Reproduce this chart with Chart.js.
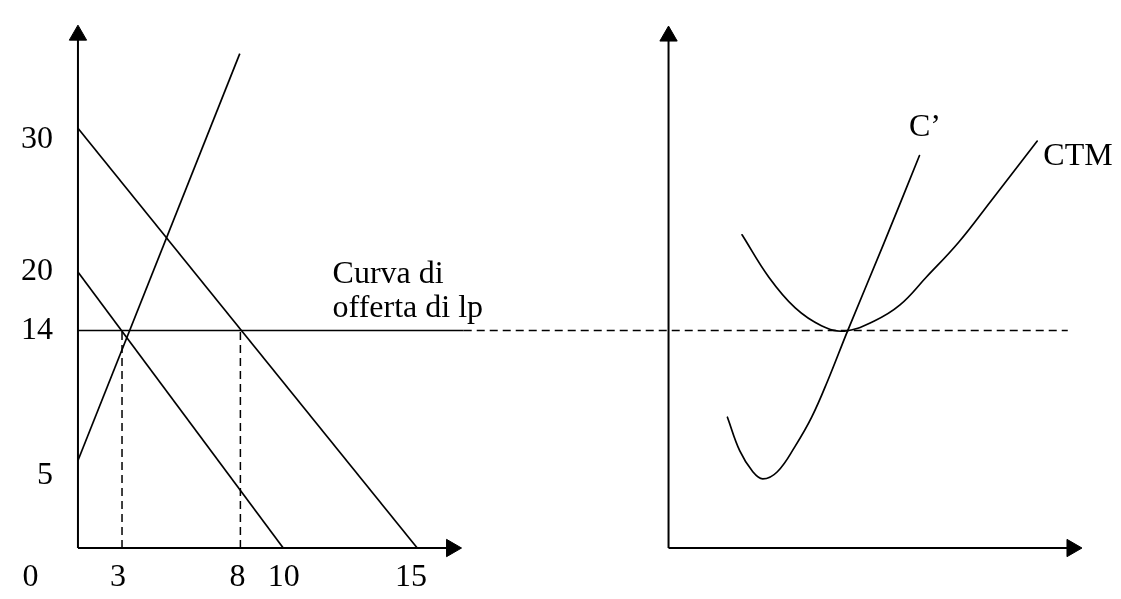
<!DOCTYPE html>
<html>
<head>
<meta charset="utf-8">
<style>
  html, body { margin: 0; padding: 0; background: #ffffff; overflow: hidden; }
  #wrap { width: 1121px; height: 599px; position: relative; }
  canvas { display: block; }
</style>
<script src="https://cdn.jsdelivr.net/npm/chart.js@4.4.1/dist/chart.umd.min.js"></script>
</head>
<body>
<div id="wrap"><canvas id="c" width="1121" height="599"></canvas></div>
<script>
// ---------------- DATA ----------------
// Left panel: market for lp (x = quantity, y = price)
const demandLow   = [{x: 0, y: 17.76}, {x: 10.11, y: 0}];
const demandHigh  = [{x: 0, y: 27.02}, {x: 16.71, y: 0}];
const supplyLine  = [{x: 0, y: 5.63},  {x: 7.97,  y: 31.82}];
const priceLevel  = 14;
const priceSolidEnd = 19.0;     // solid part of the price line (left panel)
const priceDashEnd  = 48.75;    // dashed continuation into right panel
const qDashed     = [2.17, 8.0];  // vertical dashed lines
const leftAxisTop = 33.01;
const leftAxisEnd = 18.40;

// Right panel: firm cost curves (x2 = firm output)
const costMarginal = [
  {x: 2.90, y: 8.42}, {x: 3.51, y: 6.25}, {x: 4.15, y: 4.91}, {x: 4.64, y: 4.45},
  {x: 5.36, y: 4.91}, {x: 6.24, y: 6.56}, {x: 7.05, y: 8.42}, {x: 7.85, y: 10.80},
  {x: 8.82, y: 13.98}, {x: 10.59, y: 19.56}, {x: 12.36, y: 25.26}
];
const costAverage = [
  {x: 3.62, y: 20.16}, {x: 4.95, y: 17.41}, {x: 6.24, y: 15.45}, {x: 7.53, y: 14.31},
  {x: 8.66, y: 13.96}, {x: 10.11, y: 14.60}, {x: 11.40, y: 15.65}, {x: 12.68, y: 17.41},
  {x: 14.29, y: 19.68}, {x: 15.90, y: 22.37}, {x: 18.16, y: 26.19}
];
const rightAxisTop = 32.95;
const rightAxisEnd = 19.87;

// Tick labels and where they sit
const xTickLabels = ['0', '3', '8', '10', '15'];
const xTickAt     = [-2.36, 1.97, 7.86, 10.13, 16.40];
const yTickLabels = ['30', '20', '14', '5'];
const yTickAt     = [26.26, 17.76, 14.0, 4.68];

// ---------------- LAYOUT CONSTANTS ----------------
const W = 1121, H = 599;
const LEFT_ORIGIN = 68.3, RIGHT_ORIGIN = 670.7, BASE = 557.5;
const UX = 20.71, UY = 16.13;

const FONT = '32px "Liberation Serif", "Times New Roman", Times, serif';
const INK = '#000000';

function lineDs(data, opts) {
  return Object.assign({
    data: data, showLine: true, borderColor: INK, backgroundColor: INK,
    borderWidth: 1.7, pointRadius: 0, fill: false, borderCapStyle: 'butt',
    xAxisID: 'x', yAxisID: 'y', clip: false
  }, opts || {});
}

function axisDs(data, xAxisID, rot) {
  return lineDs(data, {
    xAxisID: xAxisID, borderWidth: 2,
    pointRadius: [0, 10], pointStyle: 'triangle', pointRotation: [0, rot],
    pointBackgroundColor: INK, pointBorderColor: INK, pointBorderWidth: 1
  });
}

const datasets = [
  axisDs([{x: 0, y: 0}, {x: 0, y: leftAxisTop}], 'x', 0),
  axisDs([{x: 0, y: 0}, {x: leftAxisEnd, y: 0}], 'x', 90),
  axisDs([{x: 0, y: 0}, {x: 0, y: rightAxisTop}], 'x2', 0),
  axisDs([{x: 0, y: 0}, {x: rightAxisEnd, y: 0}], 'x2', 90),
  lineDs(demandLow),
  lineDs(demandHigh),
  lineDs(supplyLine),
  lineDs([{x: 0, y: priceLevel}, {x: priceSolidEnd, y: priceLevel}]),
  lineDs([{x: priceSolidEnd, y: priceLevel}, {x: priceDashEnd, y: priceLevel}], {borderDash: [8, 5], borderWidth: 1.5}),
  lineDs([{x: qDashed[0], y: 0}, {x: qDashed[0], y: priceLevel}], {borderDash: [8, 5], borderWidth: 1.5}),
  lineDs([{x: qDashed[1], y: 0}, {x: qDashed[1], y: priceLevel}], {borderDash: [8, 5], borderWidth: 1.5}),
  lineDs(costMarginal, {xAxisID: 'x2', tension: 0.4, borderCapStyle: 'round'}),
  lineDs(costAverage,  {xAxisID: 'x2', tension: 0.4, borderCapStyle: 'round'})
];

const textPlugin = {
  id: 'textLabels',
  afterDraw(chart) {
    const ctx = chart.ctx;
    const sx = chart.scales.x, sx2 = chart.scales.x2, sy = chart.scales.y;
    ctx.save();
    ctx.fillStyle = INK;
    ctx.font = FONT;
    // y tick labels (right aligned)
    ctx.textAlign = 'right';
    ctx.textBaseline = 'middle';
    yTickLabels.forEach((t, i) => {
      ctx.fillText(t, sx.getPixelForValue(-1.23), sy.getPixelForValue(yTickAt[i]));
    });
    // x tick labels
    ctx.textBaseline = 'alphabetic';
    xTickLabels.forEach((t, i) => {
      ctx.textAlign = i === 0 ? 'left' : 'center';
      const px = i === 0 ? sx.getPixelForValue(-2.73) : sx.getPixelForValue(xTickAt[i]);
      ctx.fillText(t, px, sy.getPixelForValue(-2.45));
    });
    // supply curve caption
    ctx.textAlign = 'left';
    ctx.fillText('Curva di', sx.getPixelForValue(12.54), sy.getPixelForValue(17.08));
    ctx.fillText('offerta di lp', sx.getPixelForValue(12.54), sy.getPixelForValue(14.85));
    // cost curve labels
    ctx.fillText('C\u2019', sx2.getPixelForValue(11.84), sy.getPixelForValue(26.50));
    ctx.fillText('CTM', sx2.getPixelForValue(18.46), sy.getPixelForValue(24.64));
    ctx.restore();
  }
};

new Chart(document.getElementById('c'), {
  type: 'scatter',
  data: { datasets: datasets },
  options: {
    responsive: false,
    animation: false,
    devicePixelRatio: 1,
    layout: { padding: 0 },
    plugins: { legend: { display: false }, tooltip: { enabled: false } },
    events: [],
    scales: {
      x:  { type: 'linear', display: false, min: -LEFT_ORIGIN / UX,  max: (W - LEFT_ORIGIN) / UX },
      x2: { type: 'linear', display: false, min: -RIGHT_ORIGIN / UX, max: (W - RIGHT_ORIGIN) / UX },
      y:  { type: 'linear', display: false, min: -(H - BASE) / UY,   max: BASE / UY }
    }
  },
  plugins: [textPlugin]
});
</script>
</body>
</html>
